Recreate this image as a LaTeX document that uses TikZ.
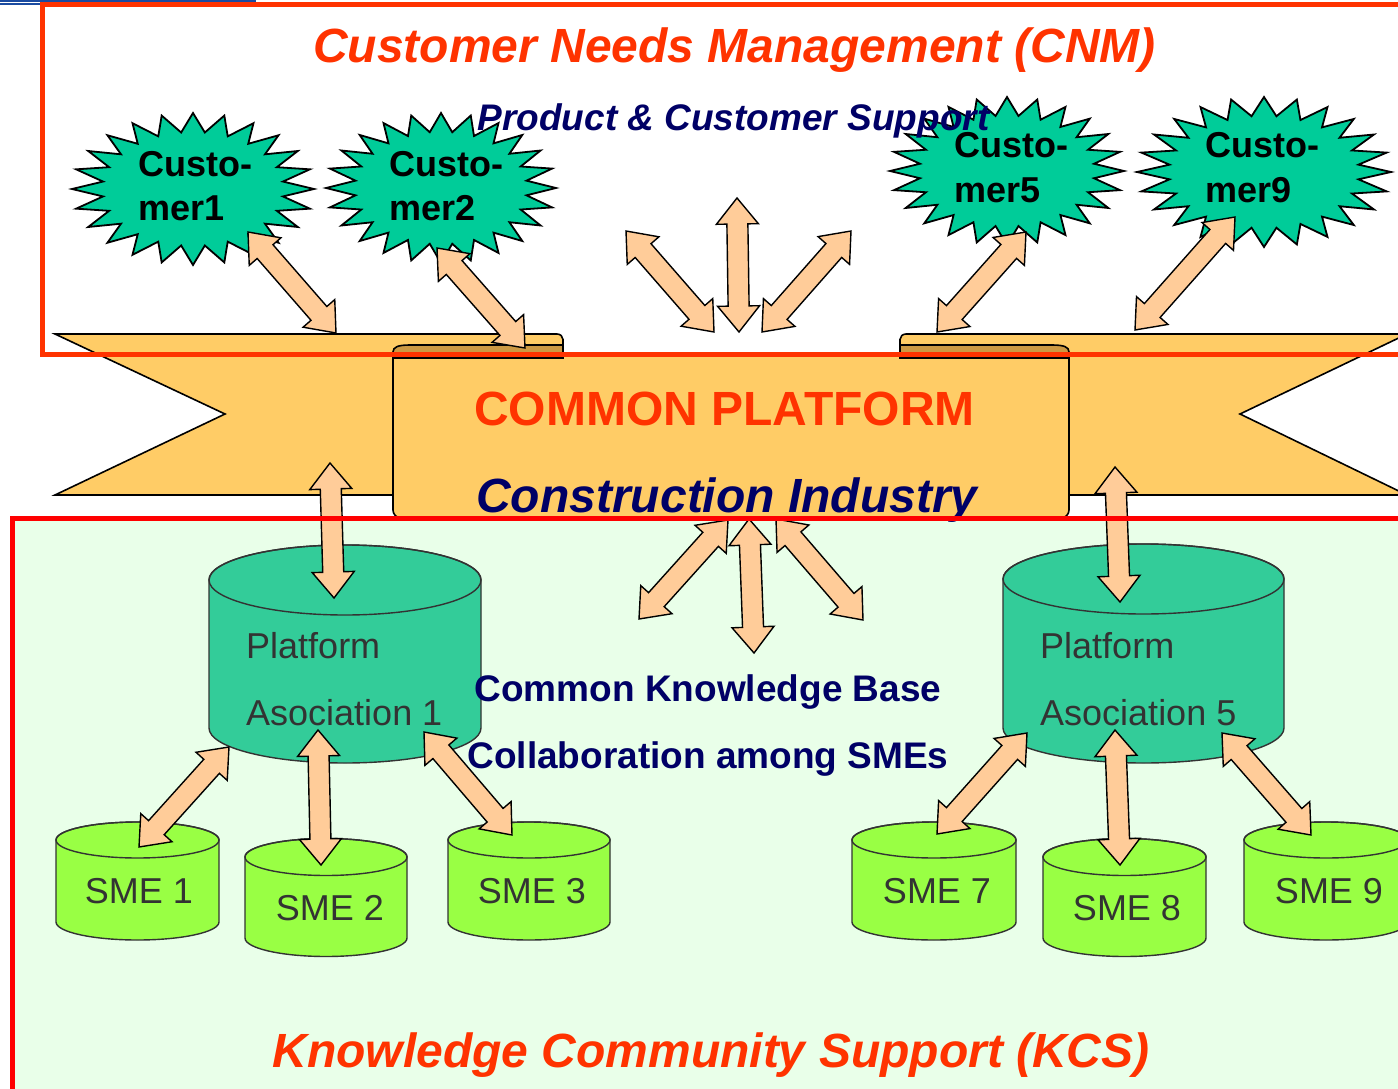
\documentclass[tikz,border=0pt]{standalone}
\usepackage{fontspec}
\setmainfont{Liberation Sans}
\usetikzlibrary{calc}
\definecolor{cnmred}{HTML}{FF3300}
\definecolor{kcsred}{HTML}{FF0000}
\definecolor{navyblue}{HTML}{000066}
\definecolor{kcsbg}{HTML}{E9FFE9}
\definecolor{cylteal}{HTML}{33CC99}
\definecolor{smelime}{HTML}{99FF44}
\definecolor{starfill}{HTML}{00CC99}
\definecolor{arrowfill}{HTML}{FFCC99}
\definecolor{bannerfill}{HTML}{FFCC66}
\definecolor{folddark}{HTML}{CC9944}
\definecolor{topblue}{HTML}{1A4BA0}
\definecolor{cyltext}{HTML}{333333}
\newcommand\arrhl{26pt}
\newcommand\arrhw{21pt}
\newcommand\arrsw{10.5pt}
% double block arrow between two named coordinates
\newcommand{\dblarr}[2]{%
  \path[blockarrow] let \p1=(#1), \p2=(#2), \n1={atan2(\y2-\y1,\x2-\x1)} in
    (\p1)
    -- ($(\p1)+(\n1:\arrhl)+(\n1+90:\arrhw)$)
    -- ($(\p1)+(\n1:\arrhl)+(\n1+90:\arrsw)$)
    -- ($(\p2)+(\n1+180:\arrhl)+(\n1+90:\arrsw)$)
    -- ($(\p2)+(\n1+180:\arrhl)+(\n1+90:\arrhw)$)
    -- (\p2)
    -- ($(\p2)+(\n1+180:\arrhl)+(\n1-90:\arrhw)$)
    -- ($(\p2)+(\n1+180:\arrhl)+(\n1-90:\arrsw)$)
    -- ($(\p1)+(\n1:\arrhl)+(\n1-90:\arrsw)$)
    -- ($(\p1)+(\n1:\arrhl)+(\n1-90:\arrhw)$)
    -- cycle;}
% 24-point star burst: cx, cy, rx, ry
\newcommand{\burst}[4]{%
  \draw[burststyle, shift={(#1,#2)}, xscale=#3, yscale=#4]
    plot[samples at={0,...,47}, variable=\k]
    ({cos(90+\k*7.5)*(1-0.25*mod(\k,2))}, {sin(90+\k*7.5)*(1-0.25*mod(\k,2))}) -- cycle;}
% cylinder: x1, x2, ytop, ybottom, ry, colour
\newcommand{\cyl}[6]{%
  \pgfmathsetmacro\cylcx{(#1+#2)/2}%
  \pgfmathsetmacro\cylrx{(#2-#1)/2}%
  \filldraw[cylstyle, fill=#6] (#1,#3) -- (#1,#4)
    arc[start angle=180, end angle=0, x radius=\cylrx, y radius=#5]
    -- (#2,#3) arc[start angle=0, end angle=-180, x radius=\cylrx, y radius=#5] -- cycle;
  \draw[cylstyle] (\cylcx,#3) ellipse[x radius=\cylrx, y radius=#5];}
\begin{document}
\begin{tikzpicture}[x=1pt,y=-1pt,
  blockarrow/.style={fill=arrowfill, draw=black, line width=1.4pt, line join=miter},
  burststyle/.style={fill=starfill, draw=black, line width=1.8pt, line join=miter},
  cylstyle/.style={draw=black!80, line width=1.4pt},
  bannerstyle/.style={fill=bannerfill, draw=black, line width=1.6pt},
  foldstyle/.style={fill=folddark, draw=black, line width=1.6pt},
  txt/.style={inner sep=0pt, anchor=base},
  bigtitle/.style={txt, text=cnmred, font=\fontsize{48}{56}\selectfont\bfseries\itshape},
  subtitle/.style={txt, text=navyblue, font=\fontsize{37}{44}\selectfont\bfseries\itshape},
  platformtxt/.style={txt, text=cnmred, font=\fontsize{48}{56}\selectfont\bfseries},
  industrytxt/.style={txt, text=navyblue, font=\fontsize{48}{56}\selectfont\bfseries\itshape},
  kbtxt/.style={txt, text=navyblue, font=\fontsize{37}{44}\selectfont\bfseries},
  startxt/.style={inner sep=0pt, anchor=base west, text=black, font=\fontsize{36}{42}\selectfont\bfseries},
  asstxt/.style={inner sep=0pt, anchor=base west, text=cyltext, font=\fontsize{36}{42}\selectfont},
  smetxt/.style={txt, text=cyltext, font=\fontsize{36}{42}\selectfont}]
\useasboundingbox (0,0) rectangle (1398,1089);
\clip (0,0) rectangle (1398,1089);
\fill[white] (0,0) rectangle (1398,1089);

% KCS background
\fill[kcsbg] (12,518) rectangle (1430,1110);

% top-left blue rules
\draw[topblue, line width=1.7pt] (0,0.9) -- (256,0.9);
\draw[topblue, line width=2pt] (0,4.3) -- (42,4.3);

% banner (common platform)
\filldraw[bannerstyle] (55,334) -- (557,334)
  arc[start angle=-90, end angle=0, x radius=6, y radius=5.5]
  -- (563,495) -- (55,495) -- (225,414) -- cycle;
\filldraw[bannerstyle] (1407,334) -- (906,334)
  arc[start angle=-90, end angle=-180, x radius=6, y radius=5.5]
  -- (900,495) -- (1407,495) -- (1240,414) -- cycle;
\filldraw[bannerstyle] (393,356) -- (393,510)
  arc[start angle=180, end angle=90, radius=8] -- (1061,518)
  arc[start angle=90, end angle=0, radius=8] -- (1069,356) -- cycle;
\filldraw[foldstyle] (393,358) -- (393,352) .. controls (393,347) and (398,345) .. (410,345)
  -- (563,345) -- (563,358) -- cycle;
\filldraw[foldstyle] (1069,358) -- (1069,352) .. controls (1069,347) and (1064,345) .. (1052,345)
  -- (900,345) -- (900,358) -- cycle;
\node[platformtxt] (platform) at (724.5,425) {COMMON PLATFORM};
\node[industrytxt] (industry) at (727,512) {Construction Industry};

% customers
\burst{193}{189}{121}{76}
\burst{441}{188}{115}{75}
\burst{1007}{171}{117}{74}
\burst{1264}{172}{127}{75}

% cylinders
\cyl{209}{481}{580}{728}{35}{cylteal}
\cyl{1003}{1284}{579}{728}{35}{cylteal}
\cyl{56}{219}{840}{922}{18}{smelime}
\cyl{245}{407}{857}{938}{18.5}{smelime}
\cyl{448}{610}{840}{922}{18}{smelime}
\cyl{852}{1016}{840}{922}{18}{smelime}
\cyl{1043}{1206}{857}{938}{18.5}{smelime}
\cyl{1244}{1408}{840}{922}{18}{smelime}

% arrow end points
\coordinate (u1a) at (248,232);  \coordinate (u1b) at (336,333);
\coordinate (u2a) at (437,248);  \coordinate (u2b) at (525,348);
\coordinate (utla) at (626,231); \coordinate (utlb) at (714,332);
\coordinate (utva) at (737,198); \coordinate (utvb) at (739,332);
\coordinate (utra) at (851,231); \coordinate (utrb) at (762,332);
\coordinate (u5a) at (1026,232); \coordinate (u5b) at (937,332);
\coordinate (u9a) at (1235,217); \coordinate (u9b) at (1135,330);
\coordinate (b1a) at (330,463);  \coordinate (b1b) at (334,598);
\coordinate (b5a) at (1115,467); \coordinate (b5b) at (1120,602);
\coordinate (kla) at (728,520);  \coordinate (klb) at (639,619);
\coordinate (kva) at (749,519);  \coordinate (kvb) at (754,653);
\coordinate (kra) at (776,519);  \coordinate (krb) at (863,620);
\coordinate (s1a) at (229,747);  \coordinate (s1b) at (139,847);
\coordinate (s2a) at (318,730);  \coordinate (s2b) at (321,865);
\coordinate (s3a) at (424,732);  \coordinate (s3b) at (512,835);
\coordinate (s7a) at (1027,733); \coordinate (s7b) at (937,834);
\coordinate (s8a) at (1115,730); \coordinate (s8b) at (1120,865);
\coordinate (s9a) at (1222,733); \coordinate (s9b) at (1311,835);

\dblarr{u1a}{u1b}
\dblarr{u2a}{u2b}
\dblarr{utla}{utlb}
\dblarr{utva}{utvb}
\dblarr{utra}{utrb}
\dblarr{u5a}{u5b}
\dblarr{u9a}{u9b}
\dblarr{b1a}{b1b}
\dblarr{b5a}{b5b}
\dblarr{kla}{klb}
\dblarr{kva}{kvb}
\dblarr{kra}{krb}
\dblarr{s1a}{s1b}
\dblarr{s2a}{s2b}
\dblarr{s3a}{s3b}
\dblarr{s7a}{s7b}
\dblarr{s8a}{s8b}
\dblarr{s9a}{s9b}

% frames
\draw[cnmred, line width=5pt] (42.5,4.2) rectangle (1430,354.5);
\draw[kcsred, line width=5pt] (12,518) rectangle (1430,1110);

% texts
\node[bigtitle] (cnm) at (734.5,63) {Customer Needs Management (CNM)};
\node[subtitle] (pcs) at (733.5,131) {Product \& Customer Support};
\node[startxt] (c1a) at (138,176) {Custo-};
\node[startxt] (c1b) at (138,220) {mer1};
\node[startxt] (c2a) at (389,176) {Custo-};
\node[startxt] (c2b) at (389,220) {mer2};
\node[startxt] (c5a) at (954,158) {Custo-};
\node[startxt] (c5b) at (954,203) {mer5};
\node[startxt] (c9a) at (1205,158) {Custo-};
\node[startxt] (c9b) at (1205,203) {mer9};
\node[asstxt] (pa1a) at (246,658) {Platform};
\node[asstxt] (pa1b) at (246,725) {Asociation 1};
\node[asstxt] (pa5a) at (1040,658) {Platform};
\node[asstxt] (pa5b) at (1040,725) {Asociation 5};
\node[kbtxt] (ckb) at (708,701) {Common Knowledge Base};
\node[kbtxt] (col) at (708,768) {Collaboration among SMEs};
\node[smetxt] (sme1) at (139,903) {SME 1};
\node[smetxt] (sme2) at (330,920) {SME 2};
\node[smetxt] (sme3) at (532,903) {SME 3};
\node[smetxt] (sme7) at (937,903) {SME 7};
\node[smetxt] (sme8) at (1127,920) {SME 8};
\node[smetxt] (sme9) at (1329,903) {SME 9};
\node[bigtitle] (kcs) at (711,1067) {Knowledge Community Support (KCS)};
\end{tikzpicture}
\end{document}
